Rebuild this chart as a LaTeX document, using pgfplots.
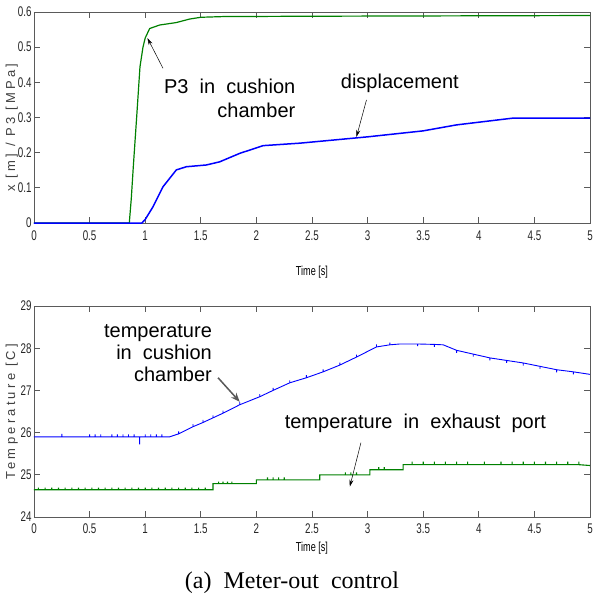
\documentclass[border=0pt]{standalone}
\usepackage{pgfplots}
\pgfplotsset{compat=1.18}
\usetikzlibrary{arrows.meta}
\usepackage{fontspec}
\setmainfont{Liberation Sans}
\newfontfamily\narrowfont[FakeStretch=0.7]{Liberation Sans}
\newfontfamily\spacedfont[LetterSpace=25]{Liberation Sans}
\newfontfamily\timesfont{Liberation Serif}
\definecolor{mblue}{RGB}{0,0,255}
\definecolor{mgreen}{RGB}{0,128,0}
\definecolor{axgray}{RGB}{90,90,90}
\begin{document}
\begin{tikzpicture}
\pgfplotsset{
  mstyle/.style={
    scale only axis, width=556pt, height=211pt,
    xmin=0, xmax=5,
    xtick={0,0.5,...,5},
    xticklabels={0,0.5,1,1.5,2,2.5,3,3.5,4,4.5,5},
    tick align=inside, major tick length=6pt,
    xtick pos=both, ytick pos=both,
    axis line style={axgray, line width=0.8pt},
    every tick/.style={axgray, line width=0.8pt},
    /pgf/number format/assume math mode=true,
    tick label style={font=\narrowfont\fontsize{14}{16}\selectfont, text=black!85},
    yticklabel style={xshift=1pt},
    every axis y label/.style={at={(axis description cs:-0.04,0.5)}, rotate=90, anchor=center,
      font=\spacedfont\fontsize{13}{15}\selectfont, text=black!75},
    clip=true,
  }
}
% ---------- top axis ----------
\begin{axis}[mstyle, at={(0pt,0pt)}, anchor=south west,
  ymin=0, ymax=0.6, ytick={0,0.1,...,0.6},
  yticklabels={0,0.1,0.2,0.3,0.4,0.5,0.6},
  xticklabel style={yshift=-4pt},
  xlabel={Time [s]},
  every axis x label/.style={at={(axis description cs:0.5,0)}, anchor=center, yshift=-49pt,
     font=\narrowfont\fontsize{13}{15}\selectfont},
  ylabel={x [m]  /  P3 [MPa]},
  ylabel style={yshift=0pt, xshift=-10pt},
]
\addplot[mgreen, line width=1.2pt] coordinates {
(0,0)(0.857,0)(0.875,0.07)(0.893,0.16)(0.923,0.30)(0.953,0.444)(0.98,0.50)(1.0,0.526)
(1.04,0.553)(1.13,0.563)(1.28,0.570)(1.40,0.580)(1.5,0.585)(1.7,0.587)(2.5,0.588)(5,0.59)};
\addplot[mblue, line width=1.5pt] coordinates {
(0,0)(0.97,0)(1.0,0.01)(1.07,0.046)(1.16,0.103)(1.28,0.151)(1.37,0.16)(1.55,0.165)
(1.67,0.174)(1.85,0.198)(2.06,0.22)(2.39,0.227)(3.0,0.245)(3.5,0.262)(3.8,0.279)
(4.3,0.298)(5,0.298)};
\node[font=\fontsize{20}{24}\selectfont, align=right] at (axis cs:1.76,0.355)
  {P3\ \ in\ \ cushion\\chamber};
\draw[-{Stealth[length=7pt,width=4pt]}, black, line width=0.5pt] (axis cs:1.16,0.44) -- (axis cs:1.02,0.526);
\node[font=\fontsize{20}{24}\selectfont] at (axis cs:3.29,0.398) {displacement};
\draw[-{Stealth[length=7pt,width=4pt]}, black, line width=0.5pt] (axis cs:2.99,0.35) -- (axis cs:2.90,0.245);
\end{axis}
% ---------- bottom axis ----------
\begin{axis}[mstyle, at={(0pt,-294pt)}, anchor=south west,
  ymin=24, ymax=29, ytick={24,25,...,29},
  yticklabels={24,25,26,27,28,29},
  xticklabel style={yshift=-3pt},
  xlabel={Time [s]},
  every axis x label/.style={at={(axis description cs:0.5,0)}, anchor=center, yshift=-31pt,
     font=\narrowfont\fontsize{13}{15}\selectfont},
  ylabel={Temperature [C]},
]
\addplot[mblue, line width=0.9pt] coordinates {
(0,25.9)(0.25,25.9)(0.25,25.97)(0.25,25.9)(0.5,25.9)(0.5,25.96)(0.5,25.9)
(0.55,25.9)(0.55,25.96)(0.55,25.9)(0.6,25.9)(0.6,25.96)(0.6,25.9)
(0.7,25.9)(0.7,25.96)(0.7,25.9)(0.75,25.9)(0.75,25.96)(0.75,25.9)
(0.8,25.9)(0.8,25.96)(0.8,25.9)(0.85,25.9)(0.85,25.96)(0.85,25.9)
(0.9,25.9)(0.9,25.96)(0.9,25.9)(0.95,25.9)(0.95,25.72)(0.95,25.9)
(1.0,25.9)(1.0,25.96)(1.0,25.9)(1.05,25.9)(1.05,25.96)(1.05,25.9)
(1.1,25.9)(1.1,25.96)(1.1,25.9)(1.15,25.9)(1.15,25.96)(1.15,25.9)
(1.22,25.9)
(1.3,25.97)(1.3,26.03)(1.3,25.97)
(1.43,26.14)(1.43,26.2)(1.43,26.14)
(1.52,26.24)(1.52,26.3)(1.52,26.24)
(1.61,26.35)(1.61,26.41)(1.61,26.35)
(1.7,26.46)(1.7,26.52)(1.7,26.46)
(1.85,26.66)(1.85,26.72)(1.85,26.66)
(2.03,26.85)(2.03,26.91)(2.03,26.85)
(2.15,27.0)(2.15,27.06)(2.15,27.0)
(2.3,27.18)(2.3,27.24)(2.3,27.18)
(2.45,27.3)(2.45,27.36)(2.45,27.3)
(2.6,27.44)(2.6,27.5)(2.6,27.44)
(2.75,27.6)(2.75,27.66)(2.75,27.6)
(2.9,27.79)(2.9,27.85)(2.9,27.79)
(3.08,28.03)(3.08,28.09)(3.08,28.03)
(3.2,28.08)(3.2,28.13)(3.2,28.08)
(3.29,28.1)
(3.45,28.1)(3.45,28.05)(3.45,28.1)
(3.6,28.09)(3.6,28.03)(3.6,28.09)
(3.68,28.08)
(3.8,27.95)(3.8,27.89)(3.8,27.95)
(3.95,27.86)(3.95,27.8)(3.95,27.86)
(4.1,27.77)(4.1,27.71)(4.1,27.77)
(4.25,27.71)(4.25,27.65)(4.25,27.71)
(4.4,27.65)(4.4,27.59)(4.4,27.65)
(4.55,27.57)(4.55,27.51)(4.55,27.57)
(4.7,27.49)(4.7,27.43)(4.7,27.49)
(4.85,27.44)(4.85,27.38)(4.85,27.44)
(5,27.38)};
\addplot[mgreen, line width=1.1pt] coordinates {
(0,24.645)
(0.04,24.645)(0.04,24.695)(0.04,24.645)(0.1,24.645)(0.1,24.695)(0.1,24.645)
(0.16,24.645)(0.16,24.695)(0.16,24.645)(0.22,24.645)(0.22,24.695)(0.22,24.645)
(0.28,24.645)(0.28,24.695)(0.28,24.645)(0.34,24.645)(0.34,24.695)(0.34,24.645)
(0.4,24.645)(0.4,24.695)(0.4,24.645)(0.46,24.645)(0.46,24.695)(0.46,24.645)
(0.52,24.645)(0.52,24.695)(0.52,24.645)(0.58,24.645)(0.58,24.695)(0.58,24.645)
(0.64,24.645)(0.64,24.695)(0.64,24.645)(0.7,24.645)(0.7,24.695)(0.7,24.645)
(0.76,24.645)(0.76,24.695)(0.76,24.645)(0.82,24.645)(0.82,24.695)(0.82,24.645)
(0.88,24.645)(0.88,24.695)(0.88,24.645)(0.94,24.645)(0.94,24.695)(0.94,24.645)
(1.0,24.645)(1.0,24.695)(1.0,24.645)(1.06,24.645)(1.06,24.695)(1.06,24.645)
(1.12,24.645)(1.12,24.695)(1.12,24.645)(1.18,24.645)(1.18,24.695)(1.18,24.645)
(1.24,24.645)(1.24,24.695)(1.24,24.645)(1.3,24.645)(1.3,24.695)(1.3,24.645)
(1.36,24.645)(1.36,24.695)(1.36,24.645)(1.42,24.645)(1.42,24.695)(1.42,24.645)
(1.48,24.645)(1.48,24.695)(1.48,24.645)(1.54,24.645)(1.54,24.695)(1.54,24.645)
(1.61,24.645)(1.61,24.79)
(1.66,24.79)(1.66,24.84)(1.66,24.79)(1.7,24.79)(1.7,24.84)(1.7,24.79)
(1.74,24.79)(1.74,24.84)(1.74,24.79)(1.78,24.79)(1.78,24.84)(1.78,24.79)
(2.0,24.79)(2.0,24.88)
(2.1,24.88)(2.1,24.94)(2.1,24.88)(2.15,24.88)(2.15,24.94)(2.15,24.88)
(2.2,24.88)(2.2,24.94)(2.2,24.88)(2.25,24.88)(2.25,24.94)(2.25,24.88)
(2.57,24.88)(2.57,25.0)
(2.8,25.0)(2.8,25.06)(2.8,25.0)(2.85,25.0)(2.85,25.06)(2.85,25.0)
(2.9,25.0)(2.9,25.06)(2.9,25.0)
(3.02,25.0)(3.02,25.12)
(3.1,25.12)(3.1,25.18)(3.1,25.12)(3.15,25.12)(3.15,25.18)(3.15,25.12)
(3.32,25.12)(3.32,25.24)
(3.4,25.24)(3.4,25.31)(3.4,25.24)(3.5,25.24)(3.5,25.31)(3.5,25.24)
(3.6,25.24)(3.6,25.31)(3.6,25.24)(3.7,25.24)(3.7,25.31)(3.7,25.24)
(3.8,25.24)(3.8,25.31)(3.8,25.24)(3.9,25.24)(3.9,25.31)(3.9,25.24)
(4.05,25.24)(4.05,25.31)(4.05,25.24)(4.2,25.24)(4.2,25.31)(4.2,25.24)
(4.3,25.24)(4.3,25.31)(4.3,25.24)(4.4,25.24)(4.4,25.31)(4.4,25.24)
(4.5,25.24)(4.5,25.31)(4.5,25.24)(4.6,25.24)(4.6,25.31)(4.6,25.24)
(4.7,25.24)(4.7,25.31)(4.7,25.24)(4.8,25.24)(4.8,25.31)(4.8,25.24)
(4.9,25.24)(4.9,25.31)(4.9,25.24)
(5,25.22)};
\node[font=\fontsize{20}{22}\selectfont, align=right] at (axis cs:1.115,27.89)
  {temperature\\in\ \ cushion\\chamber};
\draw[-{Stealth[length=9pt,width=7pt]}, black!65, line width=1.5pt] (axis cs:1.655,27.30) -- (axis cs:1.85,26.73);
\node[font=\fontsize{20}{24}\selectfont] at (axis cs:3.43,26.23) {temperature\ \ in\ \ exhaust\ \ port};
\draw[-{Stealth[length=7pt,width=4pt]}, black, line width=0.5pt] (axis cs:2.94,25.76) -- (axis cs:2.84,24.72);
\end{axis}
\node[font=\timesfont\fontsize{24}{28}\selectfont] at (258pt,-360pt) {(a)\ \ Meter-out\ \ control};
\pgfresetboundingbox
\path[use as bounding box] (-34pt,223pt) rectangle (558pt,-385pt);
\end{tikzpicture}
\end{document}
